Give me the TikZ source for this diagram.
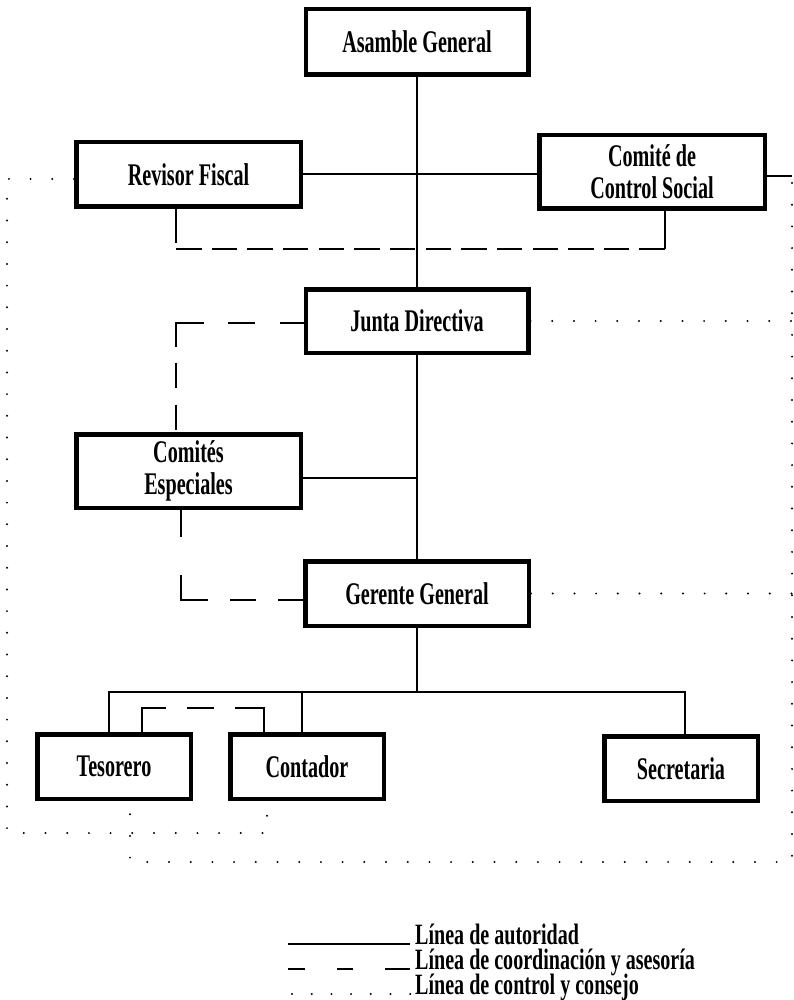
\documentclass[tikz,border=0pt]{standalone}
\usepackage{fontspec}
\setmainfont{Liberation Serif}
\newfontfamily\labfont[FakeStretch=0.64]{Liberation Serif}
\newfontfamily\legfont[FakeStretch=0.68]{Liberation Serif}
\begin{document}
\begin{tikzpicture}[x=1pt,y=-1pt,
  box/.style={draw, line width=4.5pt, inner sep=0pt, align=center,
    font=\labfont\bfseries\fontsize{31.5}{32}\selectfont},
  legtext/.style={inner sep=0pt, font=\legfont\bfseries\fontsize{29.5}{30}\selectfont},
  auth/.style={line width=2pt},
  coordl/.style={line width=2pt},
  ctrl/.style={line width=2.2pt, line cap=round, dash pattern=on 0pt off 21.7pt}]
\useasboundingbox (0,0) rectangle (793,1000);
% boxes
\node[box, minimum width=222.5pt, minimum height=65.5pt] (asamble) at (417,42) {Asamble General};
\node[box, minimum width=224.5pt, minimum height=64.5pt] (revisor) at (188.5,174.5) {Revisor Fiscal};
\node[box, minimum width=225.5pt, minimum height=73.5pt] (comite) at (652,172) {Comité de\\Control Social};
\node[box, minimum width=222.5pt, minimum height=63.5pt] (junta) at (417,321) {Junta Directiva};
\node[box, minimum width=224.5pt, minimum height=73.5pt] (especiales) at (188.5,471) {Comités\\Especiales};
\node[box, minimum width=223.5pt, minimum height=64.5pt] (gerente) at (417,593.5) {Gerente General};
\node[box, minimum width=153.5pt, minimum height=64.5pt] (tesorero) at (114,766.5) {Tesorero};
\node[box, minimum width=153.5pt, minimum height=64.5pt] (contador) at (307,766.5) {Contador};
\node[box, minimum width=153.5pt, minimum height=64.5pt] (secretaria) at (681,768.5) {Secretaria};
% coordinates
\coordinate (busL) at (109,692);
\coordinate (busC) at (302,692);
\coordinate (busR) at (685,692);
\coordinate (rtop) at (792,176);
\coordinate (d1) at (176,243);
\coordinate (dL) at (176,249);
\coordinate (dR) at (665,249);
\coordinate (c2) at (176,323);
\coordinate (c3) at (181,600);
\coordinate (c4) at (142,708);
\coordinate (c5) at (264,708);
\coordinate (lt) at (7,179);
\coordinate (lb) at (7,833);
\coordinate (cb) at (267,833);
\coordinate (tb) at (130,862);
\coordinate (rb) at (792,862);
\coordinate (eE) at ([yshift=-7pt]especiales.east);
% authority lines
\draw[auth] (asamble.south) -- (junta.north);
\draw[auth] (junta.south) -- (gerente.north);
\draw[auth] (revisor.east) -- (revisor.east -| comite.west);
\draw[auth] (comite.east |- rtop) -- (rtop);
\draw[auth] (eE) -- (eE -| junta.south);
\draw[auth] (gerente.south) -- (gerente.south |- busL);
\draw[auth] (busL |- tesorero.north) -- (busL) -- (busR) -- (busR |- secretaria.north);
\draw[auth] (busC) -- (busC |- contador.north);
% coordination lines
\draw[coordl] (d1 |- revisor.south) -- (d1);
\draw[coordl, dash pattern=on 25.5pt off 10.15pt] (dL) -- (dR);
\draw[coordl] (dR) -- (dR |- comite.south);
\draw[coordl, dash pattern=on 24pt off 25pt on 27pt off 24pt on 51pt off 16pt on 25pt off 17pt on 25pt off 100pt] (junta.west |- c2) -- (c2) -- (c2 |- especiales.north);
\draw[coordl, dash pattern=on 27pt off 38pt on 52pt off 22pt on 26pt off 22pt on 30pt off 100pt] (c3 |- especiales.south) -- (c3) -- (c3 -| gerente.west);
\draw[coordl, dash pattern=on 48pt off 21pt on 27pt off 21pt on 60pt off 100pt] (c4 |- tesorero.north) -- (c4) -- (c5) -- (c5 |- contador.north);
% control lines
\draw[ctrl] (lt -| revisor.west) -- (lt) -- (lb) -- (cb) -- (cb |- contador.south);
\draw[ctrl] ([yshift=-7pt]rtop) -- (rb) -- (tb) -- (tb |- tesorero.south);
\draw[ctrl] (junta.east) -- (junta.east -| rtop);
\draw[ctrl] (gerente.east) -- (gerente.east -| rtop);
% legend
\coordinate (la1) at (288,944);
\coordinate (la2) at (410,944);
\coordinate (lb1) at (288,969);
\coordinate (lb2) at (410,969);
\coordinate (lc1) at (292,994);
\coordinate (lc2) at (411,994);
\draw[auth] (la1) -- (la2);
\draw[coordl, dash pattern=on 17pt off 32pt on 16pt off 32pt on 25pt off 50pt] (lb1) -- (lb2);
\draw[ctrl, dash pattern=on 0pt off 19.7pt] (lc1) -- (lc2);
\node[legtext, anchor=base west] (t1) at (415,944) {Línea de autoridad};
\node[legtext, anchor=base west] (t2) at (415,969) {Línea de coordinación y asesoría};
\node[legtext, anchor=base west] (t3) at (415,994) {Línea de control y consejo};
\end{tikzpicture}
\end{document}
